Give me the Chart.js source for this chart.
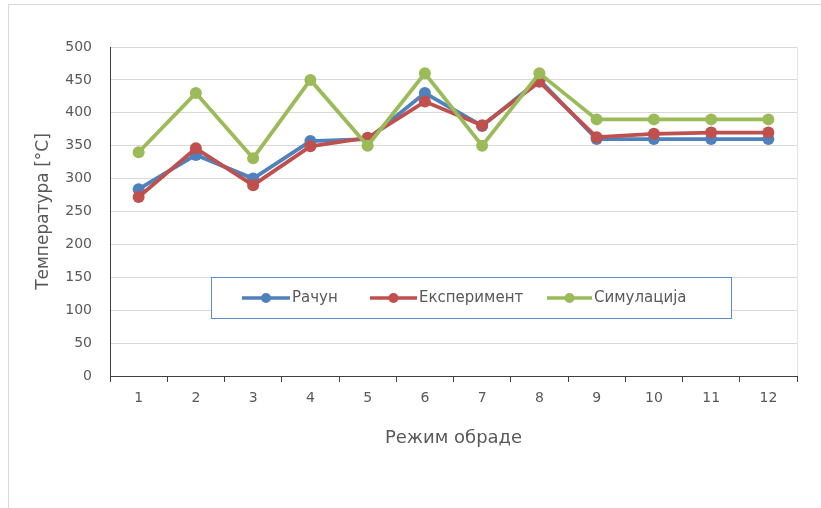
<!DOCTYPE html>
<html>
<head>
<meta charset="utf-8">
<script src="https://cdn.jsdelivr.net/npm/chart.js@4"></script>
<style>
  body { margin: 0; background: #fff; }
  #frame { position: absolute; left: 8px; top: 4px; width: 830px; height: 520px;
           border-left: 1px solid #d9d9d9; border-top: 1px solid #d9d9d9; }
  #wrap { position: absolute; left: 0; top: 0; width: 821px; height: 508px; }
</style>
</head>
<body>
<div id="frame"></div>
<div id="wrap"><canvas id="chart-canvas"></canvas></div>
<script>
const modes = ["1", "2", "3", "4", "5", "6", "7", "8", "9", "10", "11", "12"];
const racun = [284, 336, 300, 357, 360, 430, 380, 450, 360, 360, 360, 360];
const eksperiment = [272, 346, 290, 349, 362, 417, 381, 447, 363, 368, 370, 370];
const simulacija = [340, 430, 331, 450, 350, 460, 350, 460, 390, 390, 390, 390];
const yTicks = [0, 50, 100, 150, 200, 250, 300, 350, 400, 450, 500];

const blue = "#4F81BD";
const red = "#C0504D";
const green = "#9BBB59";
const textColor = "#595959";
const fontFamily = "'DejaVu Sans', sans-serif";

Chart.defaults.font.family = fontFamily;
Chart.defaults.color = textColor;

const canvas = document.getElementById("chart-canvas");

// legend box drawn inside the plot, like the original
const boxLegend = {
  id: "boxLegend",
  beforeDatasetsDraw(chart) {
    const { ctx, chartArea } = chart;
    ctx.save();
    ctx.strokeStyle = "#e4e4dc";
    ctx.lineWidth = 1;
    ctx.beginPath();
    ctx.moveTo(chartArea.right + 0.5, chartArea.top);
    ctx.lineTo(chartArea.right + 0.5, chartArea.bottom);
    ctx.stroke();
    ctx.restore();
  },
  afterDraw(chart) {
    const { ctx } = chart;
    ctx.save();
    ctx.fillStyle = "#fff";
    ctx.fillRect(211, 277, 520, 41);
    ctx.strokeStyle = "#5B8BC8";
    ctx.lineWidth = 1;
    ctx.strokeRect(211.5, 277.5, 520, 41);
    const items = [
      { x: 242, w: 48 },
      { x: 370, w: 47 },
      { x: 547, w: 45 },
    ];
    const y = 298;
    ctx.font = "15px " + fontFamily;
    ctx.textBaseline = "middle";
    chart.data.datasets.forEach((ds, i) => {
      const it = items[i];
      ctx.strokeStyle = ds.borderColor;
      ctx.lineWidth = 3.5;
      ctx.beginPath();
      ctx.moveTo(it.x, y);
      ctx.lineTo(it.x + it.w, y);
      ctx.stroke();
      ctx.fillStyle = ds.borderColor;
      ctx.beginPath();
      ctx.arc(it.x + it.w / 2, y, 5, 0, Math.PI * 2);
      ctx.fill();
      ctx.fillStyle = textColor;
      ctx.fillText(ds.label, it.x + it.w + 2, y);
    });
    ctx.restore();
  },
};

const makeSet = (label, data, color, order) => ({
  label,
  data,
  borderColor: color,
  backgroundColor: color,
  borderWidth: 3.8,
  pointRadius: 6,
  pointHoverRadius: 6,
  pointBorderWidth: 0,
  tension: 0,
  order,
});

new Chart(canvas, {
  type: "line",
  data: {
    labels: modes,
    datasets: [
      makeSet("Рачун", racun, blue, 2),
      makeSet("Експеримент", eksperiment, red, 1),
      makeSet("Симулација", simulacija, green, 0),
    ],
  },
  options: {
    responsive: true,
    maintainAspectRatio: false,
    animation: false,
    layout: {
      padding: { top: 47, right: 24, left: 0, bottom: 0 },
    },
    scales: {
      x: {
        offset: true,
        grid: {
          offset: true,
          drawOnChartArea: false,
          drawTicks: true,
          tickLength: 6,
          tickColor: "#404040",
        },
        border: { color: "#404040", width: 1 },
        ticks: { padding: 8, font: { size: 14 }, color: textColor },
        title: {
          display: true,
          text: "Режим обраде",
          font: { size: 18 },
          color: textColor,
          padding: 59,
        },
        afterFit: (scale) => {
          scale.height = 132;
        },
      },
      y: {
        min: 0,
        max: 500,
        afterBuildTicks: (scale) => {
          scale.ticks = yTicks.map((v) => ({ value: v }));
        },
        grid: { color: "#d9d9d9", drawTicks: false },
        border: { color: "#404040", width: 1 },
        ticks: { padding: 18, font: { size: 14 }, color: textColor },
        title: {
          display: true,
          text: "Температура [°C]",
          font: { size: 17 },
          color: textColor,
          padding: 33,
        },
        afterFit: (scale) => {
          scale.width = 110;
        },
      },
    },
    plugins: {
      legend: { display: false },
      tooltip: { enabled: false },
    },
  },
  plugins: [boxLegend],
});
</script>
</body>
</html>
